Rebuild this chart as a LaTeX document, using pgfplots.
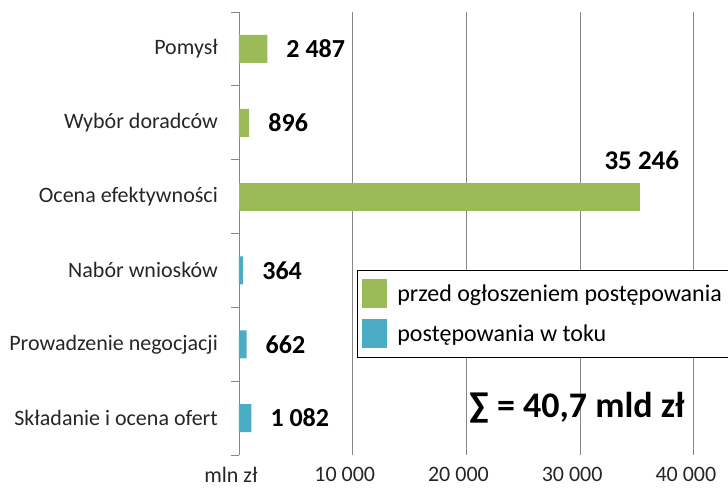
\documentclass[border=0pt]{standalone}
\usepackage{pgfplots}
\pgfplotsset{compat=1.18}
\usepackage{fontspec}
\setmainfont{Carlito}
\definecolor{zielony}{HTML}{9BBB59}
\definecolor{niebieski}{HTML}{4BACC6}
\definecolor{siatka}{RGB}{134,134,134}
\begin{document}
\begin{tikzpicture}
\useasboundingbox (-239bp,-37bp) rectangle (489bp,455bp);
\begin{axis}[
  scale only axis,
  width=489bp, height=443bp,
  xmin=0, xmax=43000,
  ymin=-0.5, ymax=5.5,
  y dir=reverse,
  axis y line*=left,
  axis x line*=bottom,
  x axis line style={draw=none},
  y axis line style={draw=siatka, line width=0.8bp},
  xmajorgrids,
  grid style={draw=siatka, line width=0.8bp},
  xtick={0,10000,20000,30000,40000},
  xticklabels={mln zł,10 000,20 000,30 000,40 000},
  xtick style={draw=none},
  ytick={0,...,5},
  yticklabels={Pomysł,Wybór doradców,Ocena efektywności,Nabór wniosków,Prowadzenie negocjacji,Składanie i ocena ofert},
  minor ytick={-0.5,0.5,...,5.5},
  tick align=outside,
  major tick length=0pt,
  minor tick length=8bp,
  minor tick style={draw=siatka, line width=0.8bp},
  ytick pos=left,
  tick label style={font=\fontsize{22bp}{25bp}\selectfont, text=black!85},
  yticklabel style={inner sep=0pt, xshift=-21bp},
  xticklabel style={inner sep=0pt, anchor=north, yshift=-12bp, xshift=-8bp},
  point meta=explicit symbolic,
  legend style={at={(0.2413,0.4176)}, anchor=north west, draw=black, line width=0.8bp, fill=white,
    font=\fontsize{24bp}{27bp}\selectfont, inner xsep=5bp, inner ysep=9bp,
    nodes={inner sep=2bp}, row sep=11bp, legend cell align=left,
    /tikz/every odd column/.append style={column sep=8bp}},
]
\addplot[xbar, bar shift=0pt, bar width=28bp, fill=zielony, draw=none,
  legend image code/.code={\fill[zielony] (0bp,-14.5bp) rectangle (25bp,14.5bp);},
  nodes near coords, every node near coord/.append style={anchor=west, inner sep=0pt, xshift=19bp,
    font=\fontsize{26bp}{28bp}\selectfont\bfseries, text=black}]
  coordinates {(2487,0) [2 487] (896,1) [896]};
\addlegendentry{przed ogłoszeniem postępowania\rule{40bp}{0pt}}
\addplot[xbar, bar shift=0pt, bar width=28bp, fill=zielony, draw=none, forget plot,
  nodes near coords, every node near coord/.append style={anchor=south, inner sep=0pt, xshift=2bp, yshift=27bp,
    font=\fontsize{27bp}{29bp}\selectfont\bfseries, text=black}]
  coordinates {(35246,2) [35 246]};
\addplot[xbar, bar shift=0pt, bar width=28bp, fill=niebieski, draw=none,
  legend image code/.code={\fill[niebieski] (0bp,-14.5bp) rectangle (25bp,14.5bp);},
  nodes near coords, every node near coord/.append style={anchor=west, inner sep=0pt, xshift=19bp,
    font=\fontsize{26bp}{28bp}\selectfont\bfseries, text=black}]
  coordinates {(364,3) [364] (662,4) [662] (1082,5) [1 082]};
\addlegendentry{postępowania w toku}
\node[font=\fontsize{36bp}{40bp}\selectfont\bfseries] at (rel axis cs:0.691,0.106) {∑ = 40,7 mld zł};
\end{axis}
\end{tikzpicture}
\end{document}
